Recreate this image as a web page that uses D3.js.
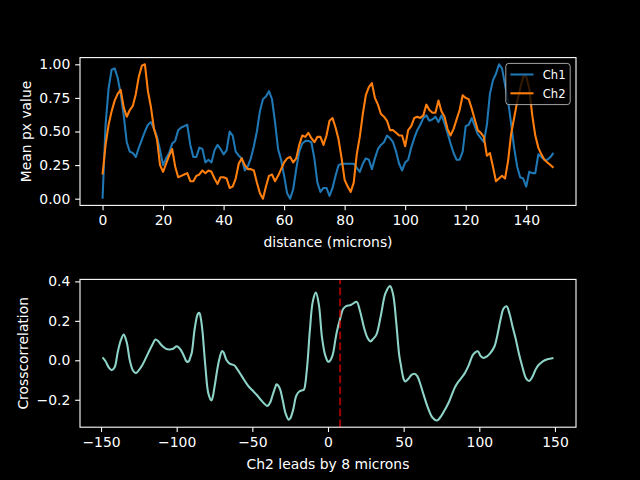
<!DOCTYPE html>
<html>
<head>
<meta charset="utf-8">
<script src="https://cdn.jsdelivr.net/npm/d3@7"></script>
<style>
    body { margin: 0; background: #000; }
    svg { display: block; font-family: "DejaVu Sans", sans-serif; }
</style>
</head>
<body>
<svg id="base" width="640" height="480"></svg>
<script>
// mean pixel value along the line, one sample per micron
const ch1 = [
    0.00, 0.55, 0.82, 0.96, 0.97, 0.90, 0.78, 0.62, 0.42, 0.35,
    0.34, 0.31, 0.38, 0.44, 0.50, 0.55, 0.57, 0.52, 0.46, 0.36,
    0.25, 0.30, 0.34, 0.41, 0.43, 0.51, 0.53, 0.54, 0.55, 0.40,
    0.31, 0.31, 0.38, 0.37, 0.27, 0.29, 0.27, 0.36, 0.40, 0.37,
    0.33, 0.36, 0.50, 0.47, 0.35, 0.32, 0.30, 0.21, 0.24, 0.30,
    0.39, 0.50, 0.65, 0.74, 0.76, 0.80, 0.74, 0.57, 0.37, 0.29,
    0.17, 0.04, 0.00, 0.07, 0.22, 0.35, 0.41, 0.43, 0.43, 0.42,
    0.30, 0.12, 0.05, 0.08, 0.08, 0.02, 0.08, 0.17, 0.25, 0.26,
    0.26, 0.26, 0.26, 0.26, 0.23, 0.20, 0.26, 0.30, 0.29, 0.22,
    0.30, 0.37, 0.40, 0.42, 0.47, 0.45, 0.42, 0.35, 0.26, 0.21,
    0.27, 0.29, 0.38, 0.45, 0.51, 0.55, 0.60, 0.62, 0.58, 0.59,
    0.61, 0.57, 0.62, 0.56, 0.49, 0.41, 0.34, 0.29, 0.29, 0.35,
    0.54, 0.55, 0.60, 0.54, 0.48, 0.45, 0.42, 0.55, 0.78, 0.88,
    0.93, 1.00, 0.97, 0.85, 0.73, 0.56, 0.38, 0.24, 0.16, 0.15,
    0.09, 0.20, 0.19, 0.19, 0.33, 0.31, 0.29, 0.29, 0.31, 0.34
];

const ch2 = [
    0.18, 0.40, 0.55, 0.65, 0.73, 0.78, 0.81, 0.68, 0.61, 0.66,
    0.69, 0.78, 0.91, 0.99, 1.00, 0.80, 0.68, 0.52, 0.44, 0.25,
    0.20, 0.26, 0.32, 0.37, 0.24, 0.16, 0.17, 0.18, 0.19, 0.13,
    0.13, 0.17, 0.18, 0.21, 0.19, 0.21, 0.20, 0.15, 0.11, 0.16,
    0.16, 0.15, 0.08, 0.09, 0.15, 0.26, 0.30, 0.25, 0.22, 0.22,
    0.21, 0.12, 0.04, 0.00, 0.09, 0.17, 0.18, 0.13, 0.17, 0.22,
    0.27, 0.30, 0.31, 0.27, 0.30, 0.40, 0.47, 0.46, 0.49, 0.45,
    0.42, 0.46, 0.46, 0.40, 0.47, 0.58, 0.60, 0.53, 0.44, 0.30,
    0.14, 0.09, 0.05, 0.12, 0.33, 0.46, 0.63, 0.77, 0.83, 0.86,
    0.75, 0.70, 0.63, 0.61, 0.58, 0.51, 0.51, 0.49, 0.47, 0.47,
    0.39, 0.51, 0.54, 0.60, 0.61, 0.60, 0.62, 0.70, 0.66, 0.64,
    0.64, 0.73, 0.65, 0.61, 0.52, 0.47, 0.52, 0.59, 0.66, 0.77,
    0.75, 0.74, 0.67, 0.59, 0.51, 0.49, 0.46, 0.32, 0.34, 0.24,
    0.13, 0.15, 0.17, 0.15, 0.28, 0.48, 0.60, 0.72, 0.82, 0.91,
    0.91, 0.82, 0.62, 0.47, 0.38, 0.33, 0.29, 0.27, 0.25, 0.23
];

// crosscorrelation read at these lags
const lags = [
    -149, -147, -145, -143, -141, -139, -137, -135, -133, -131,
    -129, -127, -125, -123, -119, -116, -114, -112, -110, -107,
    -105, -102, -100, -98, -96, -94, -93, -92, -91, -90,
    -88, -86, -85, -84, -83, -81, -79, -77, -76, -75,
    -72, -70, -69, -67, -65, -62, -60, -57, -53, -50,
    -47, -44, -40, -38, -37, -35, -34, -32, -30, -28,
    -26, -25, -23, -21, -19, -17, -16, -14, -12, -10,
    -8, -6, -4, -2, 0, 1, 3, 5, 6, 8,
    10, 12, 15, 17, 19, 21, 24, 26, 28, 30,
    32, 35, 38, 41, 43, 45, 47, 48, 50, 51,
    53, 55, 57, 59, 61, 63, 66, 69, 72, 75,
    78, 80, 84, 87, 90, 93, 96, 99, 101, 103,
    105, 107, 110, 112, 114, 116, 118, 120, 122, 124,
    126, 128, 131, 133, 135, 137, 139, 142, 145, 149
];

const xcorr = [
    0.015, -0.005, -0.035, -0.05, -0.035, 0.04, 0.10, 0.13, 0.09, 0.0,
    -0.05, -0.065, -0.05, -0.028, 0.034, 0.08, 0.105, 0.095, 0.076, 0.058,
    0.055, 0.06, 0.071, 0.06, 0.035, 0.0, -0.008, -0.005, 0.015, 0.04,
    0.165, 0.235, 0.24, 0.21, 0.15, -0.034, -0.17, -0.203, -0.18, -0.135,
    0.0, 0.047, 0.04, 0.0, -0.017, -0.025, -0.045, -0.08, -0.127, -0.152,
    -0.176, -0.204, -0.231, -0.21, -0.186, -0.14, -0.122, -0.14, -0.2, -0.27,
    -0.301, -0.295, -0.25, -0.18, -0.158, -0.152, -0.15, -0.05, 0.15, 0.30,
    0.343, 0.28, 0.118, 0.03, -0.006, -0.005, 0.025, 0.11, 0.15, 0.21,
    0.26, 0.275, 0.28, 0.29, 0.296, 0.254, 0.16, 0.115, 0.096, 0.11,
    0.13, 0.23, 0.34, 0.376, 0.335, 0.2, 0.03, -0.017, -0.095, -0.107,
    -0.095, -0.075, -0.068, -0.08, -0.12, -0.17, -0.24, -0.29, -0.305, -0.28,
    -0.24, -0.21, -0.135, -0.1, -0.07, -0.025, 0.03, 0.046, 0.02, 0.012,
    0.02, 0.034, 0.07, 0.13, 0.205, 0.262, 0.274, 0.235, 0.17, 0.11,
    0.04, -0.02, -0.093, -0.105, -0.085, -0.05, -0.025, -0.005, 0.005, 0.012
];

const leadLag = 8;

const distTicks = [0, 20, 40, 60, 80, 100, 120, 140];
const valueTicks = [0, 0.25, 0.5, 0.75, 1.0];
const lagTicks = [-150, -100, -50, 0, 50, 100, 150];
const corrTicks = [-0.2, 0.0, 0.2, 0.4];

const channels = [
    { name: "Ch1", values: ch1, color: "#1f77b4" },
    { name: "Ch2", values: ch2, color: "#ff7f0e" },
];

// layout (matplotlib default subplot box, hspace 0.5)

const left = 80;
const right = 576;
const top1 = 57.6;
const bottom1 = 205.4;
const top2 = 279.4;
const bottom2 = 427.2;
const fontSize = 13.9;
const tickLen = 4.86;
const lineW = 2.08;

const base = d3.select("#base");

base.append("rect")
    .attr("width", 640)
    .attr("height", 480)
    .attr("fill", "#000");

// matplotlib-like 5% margins
function padded(ext) {
    const d = (ext[1] - ext[0]) * 0.05;
    return [ext[0] - d, ext[1] + d];
}

function drawAxes(x, y, xTicks, yTicks, xFmt, yFmt, yTop, yBottom) {
    const g = base.append("g");

    g.append("g")
        .attr("transform", `translate(0,${yBottom})`)
        .call(d3.axisBottom(x).tickValues(xTicks).tickFormat(xFmt)
            .tickSize(tickLen).tickPadding(4.86).tickSizeOuter(0));

    g.append("g")
        .attr("transform", `translate(${left},0)`)
        .call(d3.axisLeft(y).tickValues(yTicks).tickFormat(yFmt)
            .tickSize(tickLen).tickPadding(4.86).tickSizeOuter(0));

    g.selectAll(".domain").remove();
    g.selectAll(".tick line").attr("stroke", "#fff").attr("stroke-width", 1.1);
    g.selectAll(".tick text")
        .attr("fill", "#fff")
        .style("font-size", fontSize + "px")
        .style("font-family", '"DejaVu Sans", sans-serif');

    return g;
}

function drawFrame(yTop, yBottom) {
    base.append("rect")
        .attr("x", left)
        .attr("y", yTop)
        .attr("width", right - left)
        .attr("height", yBottom - yTop)
        .attr("fill", "none")
        .attr("stroke", "#fff")
        .attr("stroke-width", 1.1);
}

// top: profiles

const xDist = d3.scaleLinear()
    .domain(padded([0, ch1.length - 1]))
    .range([left, right]);

const yVal = d3.scaleLinear()
    .domain(padded(d3.extent(ch1.concat(ch2))))
    .range([bottom1, top1]);

drawAxes(xDist, yVal, distTicks, valueTicks, d3.format("d"), d3.format(".2f"), top1, bottom1);

const profileLine = d3.line()
    .x((d, i) => xDist(i))
    .y((d) => yVal(d));

base.selectAll(".profile")
    .data(channels)
    .enter()
    .append("path")
    .attr("class", "profile")
    .attr("d", (d) => profileLine(d.values))
    .attr("fill", "none")
    .attr("stroke", (d) => d.color)
    .attr("stroke-width", lineW)
    .attr("stroke-linejoin", "round");

drawFrame(top1, bottom1);

// legend

const legendFont = 11.57;
const legend = base.append("g").attr("transform", "translate(505.8,63.4)");

legend.append("rect")
    .attr("width", 64.4)
    .attr("height", 41.2)
    .attr("rx", 3)
    .attr("fill", "#000")
    .attr("fill-opacity", 0.8)
    .attr("stroke", "#cccccc")
    .attr("stroke-opacity", 0.8)
    .attr("stroke-width", 1);

const legendItem = legend.selectAll(".legend-item")
    .data(channels)
    .enter()
    .append("g")
    .attr("class", "legend-item")
    .attr("transform", (d, i) => `translate(0,${11.1 + i * 18.8})`);

legendItem.append("line")
    .attr("x1", 4.6)
    .attr("x2", 27.7)
    .attr("stroke", (d) => d.color)
    .attr("stroke-width", lineW);

legendItem.append("text")
    .text((d) => d.name)
    .attr("x", 37)
    .attr("y", 4.2)
    .attr("fill", "#fff")
    .style("font-size", legendFont + "px");

// axis labels (top)

base.append("text")
    .text("distance (microns)")
    .attr("x", (left + right) / 2)
    .attr("y", 246.5)
    .attr("text-anchor", "middle")
    .attr("fill", "#fff")
    .style("font-size", fontSize + "px");

base.append("text")
    .text("Mean px value")
    .attr("transform", `translate(31,${(top1 + bottom1) / 2}) rotate(-90)`)
    .attr("text-anchor", "middle")
    .attr("fill", "#fff")
    .style("font-size", fontSize + "px");

// bottom: crosscorrelation

const xLag = d3.scaleLinear()
    .domain(padded(d3.extent(lags)))
    .range([left, right]);

const yCorr = d3.scaleLinear()
    .domain(padded(d3.extent(xcorr)))
    .range([bottom2, top2]);

drawAxes(xLag, yCorr, lagTicks, corrTicks, d3.format("d"), d3.format(".1f"), top2, bottom2);

const corrLine = d3.line()
    .x((d, i) => xLag(lags[i]))
    .y((d) => yCorr(d))
    .curve(d3.curveCatmullRom.alpha(0.5));

base.append("path")
    .attr("d", corrLine(xcorr))
    .attr("fill", "none")
    .attr("stroke", "#8dd3c7")
    .attr("stroke-width", lineW)
    .attr("stroke-linejoin", "round");

base.append("line")
    .attr("x1", xLag(leadLag))
    .attr("x2", xLag(leadLag))
    .attr("y1", bottom2)
    .attr("y2", top2)
    .attr("stroke", "red")
    .attr("stroke-opacity", 0.6)
    .attr("stroke-width", lineW)
    .attr("stroke-dasharray", "7.7,3.3");

drawFrame(top2, bottom2);

base.append("text")
    .text(`Ch2 leads by ${leadLag} microns`)
    .attr("x", (left + right) / 2)
    .attr("y", 468.5)
    .attr("text-anchor", "middle")
    .attr("fill", "#fff")
    .style("font-size", fontSize + "px");

base.append("text")
    .text("Crosscorrelation")
    .attr("transform", `translate(28,${(top2 + bottom2) / 2}) rotate(-90)`)
    .attr("text-anchor", "middle")
    .attr("fill", "#fff")
    .style("font-size", fontSize + "px");
</script>
</body>
</html>
